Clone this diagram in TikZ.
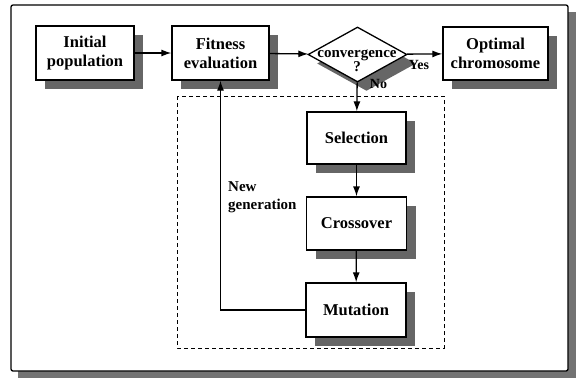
\documentclass[tikz,border=0pt]{standalone}
\usepackage{fontspec}
\setmainfont{Liberation Serif}
\newfontfamily\tnr{Liberation Serif}
\usetikzlibrary{shapes.geometric,shadows,arrows.meta}

\begin{document}
\begin{tikzpicture}[x=1pt,y=-1pt,
  shade/.style={drop shadow={shadow xshift=9pt,shadow yshift=-9pt,fill=black!60,opacity=1}},
  stepbox/.style={draw,line width=1.3pt,fill=white,align=center,inner sep=0pt,
    font=\tnr\fontsize{16.5}{19}\selectfont\bfseries,shade},
  lbl/.style={inner sep=0pt,font=\tnr\fontsize{14}{16}\selectfont\bfseries},
  arr/.style={line width=1.3pt,-{Latex[length=10pt,width=7pt]}}]
  \useasboundingbox (0,0) rectangle (576,378);
  % frame
  \fill[black!55] (18,12) rectangle (576,378);
  \draw[line width=1.3pt,fill=white,rounded corners=2pt] (11,5) rectangle (568,371);
  \draw[line width=1pt,dash pattern=on 4pt off 3pt] (177,96) rectangle (444,348);
  % boxes
  \node (init) at (85,53) [stepbox,minimum width=98pt,minimum height=54pt] {Initial\\population};
  \node (fit) at (220.5,53) [stepbox,minimum width=97pt,minimum height=54pt] {Fitness\\evaluation};
  \node (conv) at (357.5,54.5) [diamond,draw,line width=1.3pt,fill=white,inner sep=0pt,
    minimum width=99pt,minimum height=55pt,shade] {};
  \node (convtxt) at (357,61) [inner sep=0pt,align=center,font=\tnr\fontsize{15}{14}\selectfont\bfseries] {convergence\\?};
  \node (opt) at (495.5,53.5) [stepbox,minimum width=105pt,minimum height=53pt] {Optimal\\chromosome};
  \node (sel) at (356.5,138) [stepbox,minimum width=99pt,minimum height=52pt] {Selection};
  \node (cross) at (356.5,223.5) [stepbox,minimum width=100pt,minimum height=53pt] {Crossover};
  \node (mut) at (356,310) [stepbox,minimum width=100pt,minimum height=54pt] {Mutation};
  % labels
  \node (yes) at (419,65) [lbl] {Yes};
  \node (no) at (378.5,84) [lbl] {No};
  \node (newgen) at (228,197) [lbl,anchor=west,align=left,font=\tnr\fontsize{15}{18}\selectfont\bfseries] {New\\generation};
  % connectors
  \draw [arr] (init) -- (fit);
  \draw [arr] (fit) -- (conv);
  \draw [arr] (conv) -- (opt);
  \draw [arr] (conv) -- (sel);
  \draw [arr] (sel) -- (cross);
  \draw [arr] (cross) -- (mut);
  \draw [arr] (mut.west) -| (fit.south);
\end{tikzpicture}
\end{document}
